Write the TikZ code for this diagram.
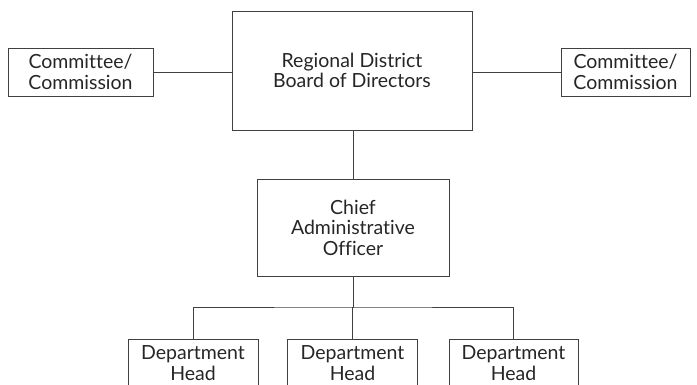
\documentclass[tikz,border=0pt]{standalone}
\usepackage{fontspec}
\setmainfont{Lato}[Ligatures=NoCommon]
\begin{document}
\begin{tikzpicture}[x=1pt,y=-1pt,
  box/.style={draw=black!75, line width=0.9pt, align=center, inner sep=0pt,
    font=\fontsize{19.5}{20.5}\selectfont, text=black!85},
  conn/.style={draw=black!75, line width=0.9pt}]
\useasboundingbox (0,0) rectangle (697,385);
\begin{scope}
\clip (0,0) rectangle (697,385);
\node[box, minimum width=240pt, minimum height=119pt] (board) at (352,70.5) {Regional District\\Board of Directors};
\node[box, minimum width=145pt, minimum height=48pt] (cl) at (80.5,72) {Committee/\\Commission};
\node[box, minimum width=129pt, minimum height=48pt] (cr) at (625.5,72) {Committee/\\Commission};
\node[box, minimum width=192pt, minimum height=97pt] (cao) at (353,227.5) {Chief\\Administrative\\Officer};
\node[box, minimum width=130pt, minimum height=48pt] (d1) at (193,363) {Department\\Head};
\node[box, minimum width=130pt, minimum height=48pt] (d2) at (352.5,363) {Department\\Head};
\node[box, minimum width=129pt, minimum height=48pt] (d3) at (513.5,363) {Department\\Head};
\coordinate (bus) at (353,307);
\draw[conn] (cl.east) -- (cl.east -| board.west);
\draw[conn] (cr.west) -- (cr.west -| board.east);
\draw[conn] (board.south -| cao.north) -- (cao.north);
\draw[conn] (cao.south) -- (bus);
\draw[conn] (d1.north) |- (bus) -| (d3.north);
\draw[conn] (bus) -- (bus -| d2.north) -- (d2.north);
\end{scope}
\end{tikzpicture}
\end{document}
